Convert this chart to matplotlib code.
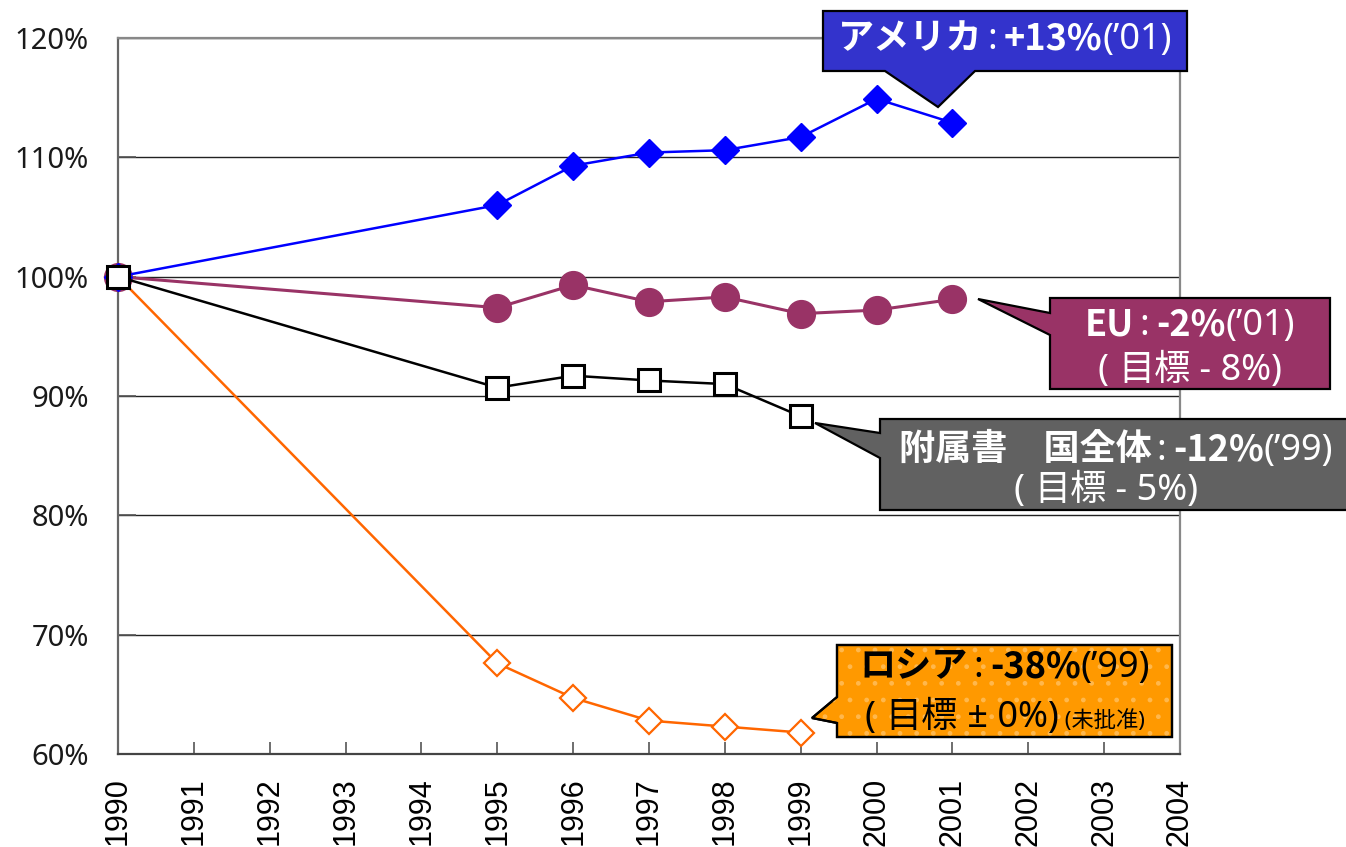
import matplotlib
matplotlib.use('Agg')
import matplotlib.pyplot as plt
from matplotlib.patches import Polygon
from matplotlib.ticker import FuncFormatter

# ---------------- data ----------------
years = [1990, 1995, 1996, 1997, 1998, 1999, 2000, 2001]
usa = [100, 106.0, 109.3, 110.4, 110.6, 111.7, 114.9, 112.9]
eu = [100, 97.4, 99.3, 97.9, 98.3, 96.9, 97.2, 98.1]
annex_years = [1990, 1995, 1996, 1997, 1998, 1999]
annex = [100, 90.7, 91.7, 91.3, 91.0, 88.3]
russia = [100, 67.6, 64.7, 62.8, 62.3, 61.8]
x_ticks = list(range(1990, 2005))
y_ticks = [60, 70, 80, 90, 100, 110, 120]

W, H = 1346, 847
fig = plt.figure(figsize=(W / 100, H / 100), dpi=100)
ax = fig.add_axes([118 / W, 1 - 754 / H, (1180 - 118) / W, (754 - 38) / H])

CJK = 'Noto Sans CJK JP'
LAT = 'Noto Sans'

# ---------------- series ----------------
ax.plot(annex_years, russia, color='#FF6600', lw=1.8, marker='D', ms=13,
        mfc='white', mec='#FF6600', mew=1.6, zorder=3, clip_on=False)
ax.plot(years, eu, color='#993366', lw=2.2, marker='o', ms=20,
        mfc='#993366', mec='#993366', zorder=4, clip_on=False)
ax.plot(years, usa, color='#0000FF', lw=1.8, marker='D', ms=14,
        mfc='#0000FF', mec='#0000FF', zorder=5, clip_on=False)
ax.plot(annex_years, annex, color='black', lw=1.8, marker='s', ms=16,
        mfc='white', mec='black', mew=2.2, zorder=6, clip_on=False)

# ---------------- axes ----------------
ax.set_xlim(1990, 2004)
ax.set_ylim(60, 120)
ax.set_xticks(x_ticks)
ax.set_xticklabels([str(v) for v in x_ticks], rotation=90,
                   fontfamily='Liberation Sans', fontsize=22)
ax.set_yticks(y_ticks)
ax.yaxis.set_major_formatter(FuncFormatter(lambda v, p: f'{v:.0f}%'))
for lab in ax.get_yticklabels():
    lab.set_fontfamily(LAT)
    lab.set_fontsize(21)
    lab.set_color('#1a1a1a')
ax.tick_params(axis='x', direction='in', length=9, width=1.2, color='#555555', pad=17)
ax.tick_params(axis='y', direction='in', length=13, width=1.2, color='#555555', pad=21)
ax.yaxis.grid(True, color='#222222', lw=1.0)
ax.set_axisbelow(True)
for s, c in [('left', '#666666'), ('bottom', '#444444'), ('top', '#888888'), ('right', '#888888')]:
    ax.spines[s].set_color(c)
    ax.spines[s].set_linewidth(1.6)


def P(x, y):
    return (x / W, 1 - y / H)


def callout(pts, fc, hatch=None, hatch_color=None):
    poly = Polygon([P(*p) for p in pts], closed=True, transform=fig.transFigure,
                   facecolor=fc, edgecolor='black', lw=1.6, zorder=15)
    fig.add_artist(poly)
    if hatch:
        hp = Polygon([P(*p) for p in pts], closed=True, transform=fig.transFigure,
                     facecolor='none', edgecolor=hatch_color, lw=0, hatch=hatch, zorder=15.5)
        fig.add_artist(hp)
        op = Polygon([P(*p) for p in pts], closed=True, transform=fig.transFigure,
                     facecolor='none', edgecolor='black', lw=1.6, zorder=16)
        fig.add_artist(op)


renderer = fig.canvas.get_renderer()


def line(cx, base_y, pieces, color):
    texts = []
    for s, fam, wt, sz in pieces:
        t = fig.text(0, 1 - base_y / H, s, family=fam, weight=wt, fontsize=sz,
                     color=color, va='baseline', ha='left', zorder=20)
        texts.append(t)
    widths = [t.get_window_extent(renderer).width for t in texts]
    x = cx - sum(widths) / 2
    for t, w in zip(texts, widths):
        t.set_x(x / W)
        x += w


FS = 26
MIX = [LAT, CJK]
COLON = '\u2009:\u2009'

# USA
callout([(823, 11), (1187, 11), (1187, 71), (975, 71), (938, 107), (885, 71), (823, 71)], '#3333CC')
line(1005, 49, [('アメリカ', CJK, 'bold', FS), (COLON, LAT, 'normal', FS),
                ('+13%', CJK, 'bold', FS), ('(’01)', LAT, 'normal', FS)], 'white')

# EU
callout([(1050, 298), (1330, 298), (1330, 389), (1050, 389), (1050, 335), (978, 299), (1050, 313)], '#993366')
line(1190, 335, [('EU', CJK, 'bold', FS), (COLON, LAT, 'normal', FS),
                 ('-2%', CJK, 'bold', FS), ('(’01)', LAT, 'normal', FS)], 'white')
line(1190, 380, [('( ', LAT, 'normal', FS), ('目標', CJK, 'normal', FS), (' - 8%)', LAT, 'normal', FS)], 'white')

# Annex I
callout([(880, 419), (1352, 419), (1352, 510), (880, 510), (880, 458), (815, 423), (880, 433)], '#616161')
line(1116, 460, [('附属書　国全体', CJK, 'bold', FS), (COLON, LAT, 'normal', FS),
                 ('-12%', CJK, 'bold', FS), ('(’99)', LAT, 'normal', FS)], 'white')
line(1106, 500, [('( ', LAT, 'normal', FS), ('目標', CJK, 'normal', FS), (' - 5%)', LAT, 'normal', FS)], 'white')

# Russia
callout([(837, 645), (1172, 645), (1172, 737), (837, 737), (837, 723), (812, 718), (837, 697)],
        '#FF9900', hatch='.', hatch_color='#FFB84D')
line(1005, 677, [('ロシア', CJK, 'bold', FS), (COLON, LAT, 'normal', FS),
                 ('-38%', CJK, 'bold', FS), ('(’99)', LAT, 'normal', FS)], 'black')
line(1005, 727, [('( ', LAT, 'normal', FS), ('目標', CJK, 'normal', FS), (' ± 0%)', LAT, 'normal', FS),
                 (' (未批准)', MIX, 'normal', 16)], 'black')

fig.savefig('out.png', dpi=100)
